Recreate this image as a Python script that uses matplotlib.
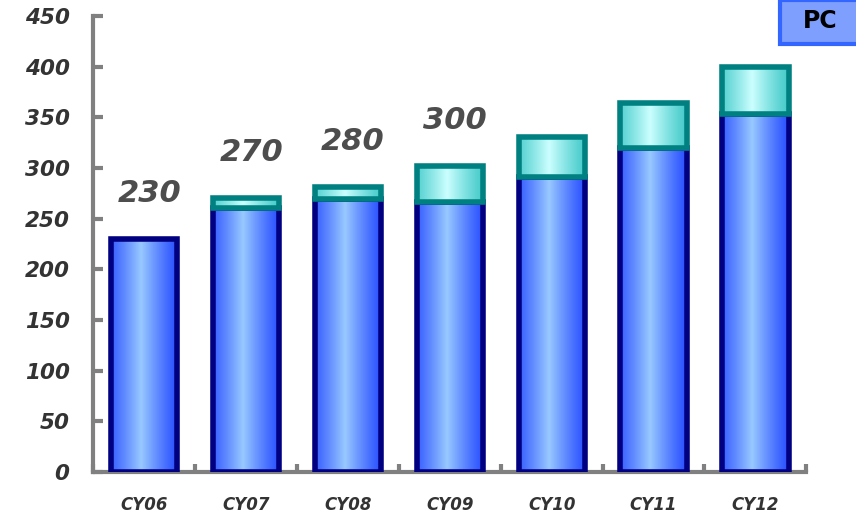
import matplotlib
matplotlib.use('Agg')
import matplotlib.pyplot as plt
import numpy as np
from matplotlib.colors import to_rgb

categories = ['CY06', 'CY07', 'CY08', 'CY09', 'CY10', 'CY11', 'CY12']
base_vals = [230, 260, 269, 266, 291, 320, 353]
total_vals = [230, 270, 281, 302, 331, 364, 400]
value_labels = ['230', '270', '280', '300', '', '', '']
y_ticks = [0, 50, 100, 150, 200, 250, 300, 350, 400, 450]


def gradient(edge, center, n=200):
    t = np.linspace(0, 1, n)
    f = np.clip(1 - np.abs(t - 0.45) / 0.55, 0, 1) ** 1.2
    e = np.array(to_rgb(edge))
    c = np.array(to_rgb(center))
    row = e[None, :] * (1 - f[:, None]) + c[None, :] * f[:, None]
    return row[None, :, :]


blue_grad = gradient('#2a50ff', '#99c9ff')
teal_grad = gradient('#45caca', '#ccffff')

fig = plt.figure(figsize=(8.56, 5.12), dpi=100)
ax = fig.add_axes([0.109, 0.078, 0.833, 0.891])

x = np.arange(len(categories))
w = 0.65

for i in x:
    b = base_vals[i]
    t = total_vals[i]
    ax.imshow(blue_grad, extent=(i - w / 2, i + w / 2, 0, b), aspect='auto', zorder=2)
    ax.bar(i, b, width=w, fill=False, edgecolor='#000080', linewidth=4, zorder=3)
    if t > b:
        ax.imshow(teal_grad, extent=(i - w / 2, i + w / 2, b, t), aspect='auto', zorder=4)
        ax.bar(i, t - b, bottom=b, width=w, fill=False, edgecolor='#008080',
               linewidth=4, zorder=5)
    if value_labels[i]:
        ax.text(i + 0.05, t + 45, value_labels[i], ha='center', va='center',
                fontsize=22, style='italic', fontweight='bold', color='#4d4d4d', zorder=6)

ax.set_xlim(-0.5, 6.5)
ax.set_ylim(0, 450)

for s in ['top', 'right']:
    ax.spines[s].set_visible(False)
for s in ['left', 'bottom']:
    ax.spines[s].set_color('#808080')
    ax.spines[s].set_linewidth(3)

ax.set_yticks(y_ticks)
ax.set_yticklabels([str(v) for v in y_ticks], fontsize=15.5, fontweight='bold',
                   style='italic', color='#333333')
ax.tick_params(axis='y', direction='in', length=7, width=3, color='#808080', pad=17)

ax.set_xticks(x)
ax.set_xticklabels(categories, fontsize=12, fontweight='bold', style='italic',
                   color='#333333')
ax.tick_params(axis='x', which='major', length=0, pad=17)
ax.set_xticks(np.arange(-0.5, 7, 1.0), minor=True)
ax.tick_params(axis='x', which='minor', direction='in', length=6, width=3, color='#808080')

# PC box at top right
fig.patches.append(plt.Rectangle((780 / 856, 1 - 44 / 512), 80 / 856, 44 / 512,
                                 transform=fig.transFigure, facecolor='#7f9fff',
                                 edgecolor='#3366ff', linewidth=3))
fig.text(820 / 856, 1 - 21 / 512, 'PC', ha='center', va='center', fontsize=17,
         fontweight='bold', family=['Liberation Sans Narrow', 'DejaVu Sans'], color='black')

fig.savefig('out.png', dpi=100)
